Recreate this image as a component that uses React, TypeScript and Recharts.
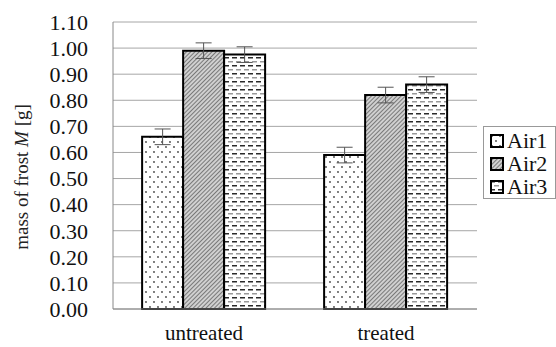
import { BarChart, Bar, XAxis, YAxis, CartesianGrid, ErrorBar } from "recharts";

const categories = ["untreated", "treated"];
const seriesNames = ["Air1", "Air2", "Air3"];
const air1 = [0.66, 0.59];
const air2 = [0.99, 0.82];
const air3 = [0.975, 0.86];
const air1Err = [0.03, 0.03];
const air2Err = [0.03, 0.03];
const air3Err = [0.03, 0.03];
const yTicks = [0, 0.1, 0.2, 0.3, 0.4, 0.5, 0.6, 0.7, 0.8, 0.9, 1.0, 1.1];

const FONT = "Liberation Serif, Times New Roman, serif";
const PATTERNS = ["patDots", "patHatch", "patDash"];

const chartData = categories.map((name, i) => ({
  name,
  Air1: air1[i],
  Air2: air2[i],
  Air3: air3[i],
  Air1Err: air1Err[i],
  Air2Err: air2Err[i],
  Air3Err: air3Err[i],
}));

const PatternDefs = () => (
  <defs>
    <pattern id="patDots" width="8" height="10" patternUnits="userSpaceOnUse">
      <rect width="8" height="10" fill="#fff" />
      <circle cx="2" cy="2" r="0.9" fill="#444" />
      <circle cx="6" cy="7" r="0.9" fill="#444" />
    </pattern>
    <pattern id="patHatch" width="3" height="3" patternUnits="userSpaceOnUse" patternTransform="rotate(45)">
      <rect width="3" height="3" fill="#d0d0d0" />
      <line x1="0" y1="0" x2="0" y2="3" stroke="#4a4a4a" strokeWidth="1.3" />
    </pattern>
    <pattern id="patDash" width="8" height="8" patternUnits="userSpaceOnUse">
      <rect width="8" height="8" fill="#fff" />
      <rect x="0" y="1" width="5" height="1.5" fill="#2a2a2a" />
      <rect x="4" y="5" width="5" height="1.5" fill="#999" />
      <rect x="-4" y="5" width="5" height="1.5" fill="#999" />
    </pattern>
  </defs>
);

const YLabel = () => (
  <text
    transform="translate(21,177) rotate(-90)"
    textAnchor="middle"
    dominantBaseline="central"
    fontFamily={FONT}
    fontSize={19}
    fill="#222"
  >
    mass of frost <tspan fontStyle="italic">M</tspan>{"  [g]"}
  </text>
);

const LegendBox = () => (
  <div
    style={{
      position: "absolute",
      left: 483,
      top: 126,
      width: 73,
      height: 73,
      border: "1px solid #999",
      background: "#fff",
      padding: "2px 0 0 6px",
      boxSizing: "border-box",
      fontFamily: FONT,
      fontSize: 22,
      lineHeight: "23px",
      color: "#111",
    }}
  >
    {seriesNames.map((s, i) => (
      <div key={s} style={{ display: "flex", alignItems: "center" }}>
        <svg width={14} height={14} style={{ marginRight: 3 }}>
          <PatternDefs />
          <rect x={1} y={1} width={12} height={12} fill={`url(#${PATTERNS[i]})`} stroke="#000" strokeWidth={2} />
        </svg>
        <span>{s}</span>
      </div>
    ))}
  </div>
);

export default function App() {
  return (
    <div style={{ position: "relative", width: 556, height: 347, background: "#fff" }}>
      <style>{`body{margin:0}`}</style>
      <BarChart
        width={556}
        height={347}
        data={chartData}
        margin={{ top: 22, right: 79, left: 0, bottom: 0 }}
        barCategoryGap="16%"
        barGap={0}
      >
        <PatternDefs />
        <CartesianGrid vertical={false} stroke="#a6a6a6" />
        <XAxis
          dataKey="name"
          height={38}
          tickLine={false}
          axisLine={{ stroke: "#888" }}
          tickMargin={10}
          tick={{ fill: "#111", fontSize: 21, fontFamily: FONT }}
        />
        <YAxis
          width={113}
          domain={[0, 1.1]}
          ticks={yTicks}
          interval={0}
          tickFormatter={(v: number) => v.toFixed(2)}
          tickLine={false}
          tickSize={0}
          tickMargin={25}
          axisLine={{ stroke: "#888" }}
          tick={{ fill: "#111", fontSize: 22, fontFamily: FONT }}
        />
        <YAxis
          yAxisId="r"
          orientation="right"
          width={0}
          tick={false}
          tickLine={false}
          axisLine={{ stroke: "#888" }}
        />
        {seriesNames.map((s, i) => (
          <Bar
            key={s}
            dataKey={s}
            fill={`url(#${PATTERNS[i]})`}
            stroke="#000"
            strokeWidth={2}
            isAnimationActive={false}
          >
            <ErrorBar dataKey={`${s}Err`} width={8} stroke="#555" strokeWidth={1} />
          </Bar>
        ))}
        <YLabel />
      </BarChart>
      <LegendBox />
    </div>
  );
}
